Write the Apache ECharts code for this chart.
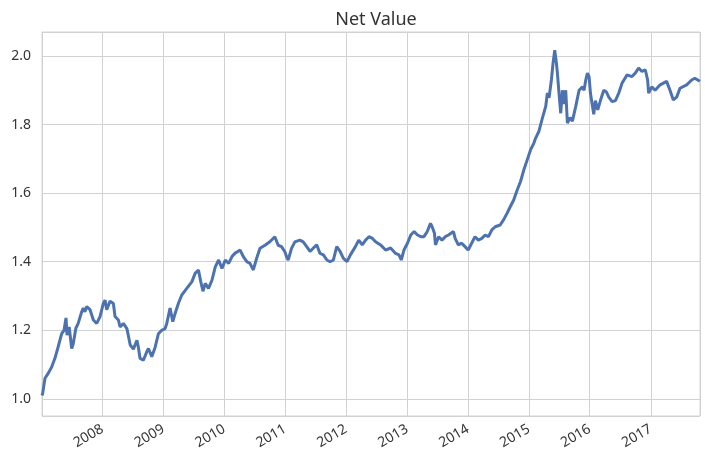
<!DOCTYPE html>
<html>
<head>
<meta charset="utf-8">
<script src="https://cdn.jsdelivr.net/npm/echarts@6/dist/echarts.min.js"></script>
<style>
html,body{margin:0;padding:0;background:#fff;}
#chart{width:705px;height:462px;}
</style>
</head>
<body>
<div id="chart"></div>
<script>
const chartTitle = "Net Value";
const dates = [
"2007-01-04","2007-01-08","2007-01-22","2007-02-11","2007-03-03","2007-03-23","2007-04-11","2007-05-02","2007-05-16","2007-05-28",
"2007-06-03","2007-06-16","2007-07-01","2007-07-10","2007-07-26","2007-08-09","2007-08-30","2007-09-08","2007-09-18","2007-09-29",
"2007-10-19","2007-11-08","2007-11-28","2007-12-18","2008-01-07","2008-01-17","2008-01-27","2008-02-16","2008-03-07","2008-03-17",
"2008-04-06","2008-04-16","2008-05-06","2008-05-27","2008-06-16","2008-07-05","2008-07-26","2008-08-04","2008-08-14","2008-09-03",
"2008-09-23","2008-10-03","2008-10-23","2008-11-12","2008-12-02","2008-12-22","2009-01-11","2009-01-21","2009-02-10","2009-02-26",
"2009-03-12","2009-04-01","2009-04-21","2009-05-21","2009-06-21","2009-07-10","2009-07-30","2009-08-13","2009-08-26","2009-09-09",
"2009-09-28","2009-10-19","2009-11-08","2009-11-28","2009-12-18","2010-01-07","2010-01-27","2010-02-16","2010-03-07","2010-04-06",
"2010-04-25","2010-05-16","2010-06-04","2010-06-24","2010-07-14","2010-08-03","2010-09-02","2010-10-01","2010-10-31","2010-11-20",
"2010-12-10","2010-12-30","2011-01-09","2011-01-19","2011-02-08","2011-02-28","2011-03-30","2011-04-19","2011-05-10","2011-05-30",
"2011-06-19","2011-07-09","2011-07-29","2011-08-18","2011-09-08","2011-09-27","2011-10-17","2011-11-06","2011-11-26","2011-12-16",
"2012-01-07","2012-01-27","2012-02-26","2012-03-17","2012-04-07","2012-04-27","2012-05-17","2012-06-07","2012-06-26","2012-07-26",
"2012-08-25","2012-09-24","2012-10-24","2012-11-13","2012-11-27","2012-12-13","2013-01-03","2013-01-23","2013-02-12","2013-03-04",
"2013-03-24","2013-04-12","2013-05-02","2013-05-21","2013-05-31","2013-06-14","2013-06-20","2013-07-09","2013-07-29","2013-08-18",
"2013-09-06","2013-10-06","2013-10-16","2013-11-04","2013-11-24","2013-12-14","2014-01-02","2014-01-23","2014-02-12","2014-03-04",
"2014-03-25","2014-04-14","2014-05-04","2014-05-24","2014-06-13","2014-07-13","2014-08-02","2014-08-23","2014-09-12","2014-10-02",
"2014-10-23","2014-11-12","2014-12-02","2014-12-22","2015-01-11","2015-01-31","2015-02-10","2015-03-02","2015-03-23","2015-04-12",
"2015-04-22","2015-05-02","2015-05-16","2015-05-26","2015-06-05","2015-06-15","2015-06-21","2015-07-01","2015-07-11","2015-07-21",
"2015-07-31","2015-08-10","2015-08-20","2015-09-05","2015-09-19","2015-10-09","2015-10-29","2015-11-19","2015-11-28","2015-12-08",
"2015-12-18","2015-12-28","2016-01-05","2016-01-25","2016-02-04","2016-02-18","2016-03-05","2016-03-25","2016-04-10","2016-04-24",
"2016-05-14","2016-06-03","2016-06-23","2016-07-13","2016-08-12","2016-09-10","2016-09-30","2016-10-20","2016-11-09","2016-11-29",
"2016-12-13","2016-12-19","2017-01-07","2017-01-27","2017-02-26","2017-04-06","2017-04-26","2017-05-16","2017-06-05","2017-06-25",
"2017-08-04","2017-09-03","2017-09-22","2017-10-10","2017-10-22"
];
const netValues = [
1.010,1.016,1.060,1.075,1.093,1.119,1.152,1.190,1.200,1.236,
1.186,1.210,1.147,1.160,1.206,1.220,1.254,1.265,1.254,1.269,
1.260,1.230,1.220,1.240,1.279,1.288,1.260,1.285,1.278,1.240,
1.230,1.210,1.220,1.205,1.157,1.145,1.171,1.150,1.118,1.113,
1.137,1.147,1.123,1.150,1.190,1.200,1.205,1.220,1.265,1.225,
1.249,1.279,1.303,1.322,1.342,1.366,1.376,1.342,1.314,1.337,
1.322,1.346,1.385,1.405,1.380,1.405,1.395,1.415,1.425,1.434,
1.415,1.400,1.395,1.376,1.410,1.439,1.448,1.458,1.473,1.448,
1.444,1.429,1.415,1.405,1.439,1.458,1.463,1.458,1.444,1.430,
1.440,1.449,1.424,1.420,1.405,1.400,1.405,1.444,1.430,1.410,
1.400,1.420,1.444,1.463,1.449,1.463,1.473,1.468,1.458,1.449,
1.434,1.440,1.424,1.420,1.405,1.434,1.454,1.478,1.488,1.478,
1.473,1.473,1.488,1.512,1.502,1.483,1.449,1.473,1.463,1.473,
1.478,1.488,1.468,1.449,1.454,1.444,1.434,1.454,1.473,1.463,
1.468,1.478,1.473,1.493,1.502,1.507,1.522,1.541,1.561,1.580,
1.609,1.634,1.668,1.697,1.726,1.746,1.760,1.780,1.819,1.853,
1.892,1.878,1.930,1.979,2.017,1.980,1.950,1.890,1.833,1.900,
1.860,1.900,1.804,1.820,1.810,1.853,1.900,1.910,1.900,1.930,
1.950,1.940,1.892,1.830,1.870,1.843,1.870,1.900,1.895,1.880,
1.867,1.870,1.892,1.921,1.945,1.940,1.950,1.965,1.955,1.960,
1.930,1.892,1.910,1.900,1.916,1.926,1.900,1.872,1.880,1.906,
1.916,1.930,1.935,1.930,1.926
];
const xMin = "2007-01-04";
const xMax = "2017-10-23";
const yMin = 0.95;
const yMax = 2.07;

const chart = echarts.init(document.getElementById('chart'), null, {renderer: 'canvas'});
const font = '"Noto Sans", "DejaVu Sans", sans-serif';
const gridColor = '#d2d2d2';
chart.setOption({
  animation: false,
  backgroundColor: '#ffffff',
  title: {
    text: chartTitle,
    left: 371, top: 6, textAlign: 'center',
    textStyle: {fontFamily: font, fontSize: 18, fontWeight: 'normal', color: '#333333'}
  },
  grid: {left: 42, right: 5, top: 32, bottom: 46, show: true, borderColor: gridColor, borderWidth: 1, containLabel: false},
  xAxis: {
    type: 'time',
    min: xMin, max: xMax,
    minInterval: 365 * 86400000,
    maxInterval: 366 * 86400000,
    axisLine: {show: false},
    axisTick: {show: false},
    splitLine: {show: true, lineStyle: {color: gridColor, width: 1}},
    axisLabel: {
      rotate: 30, margin: 12, showMinLabel: false, showMaxLabel: false,
      formatter: '{yyyy}', hideOverlap: false,
      fontFamily: font, fontSize: 14, color: '#333333'
    }
  },
  yAxis: {
    type: 'value',
    min: yMin, max: yMax, splitNumber: 5,
    axisLine: {show: false},
    axisTick: {show: false},
    splitLine: {show: true, lineStyle: {color: gridColor, width: 1}},
    axisLabel: {
      showMinLabel: false, showMaxLabel: false, margin: 11,
      formatter: v => v.toFixed(1),
      fontFamily: font, fontSize: 14, color: '#333333'
    }
  },
  series: [{
    type: 'line',
    data: dates.map((d, i) => [d, netValues[i]]),
    showSymbol: false,
    lineStyle: {color: '#4C72B0', width: 3},
    itemStyle: {color: '#4C72B0'}
  }]
});
</script>
</body>
</html>
